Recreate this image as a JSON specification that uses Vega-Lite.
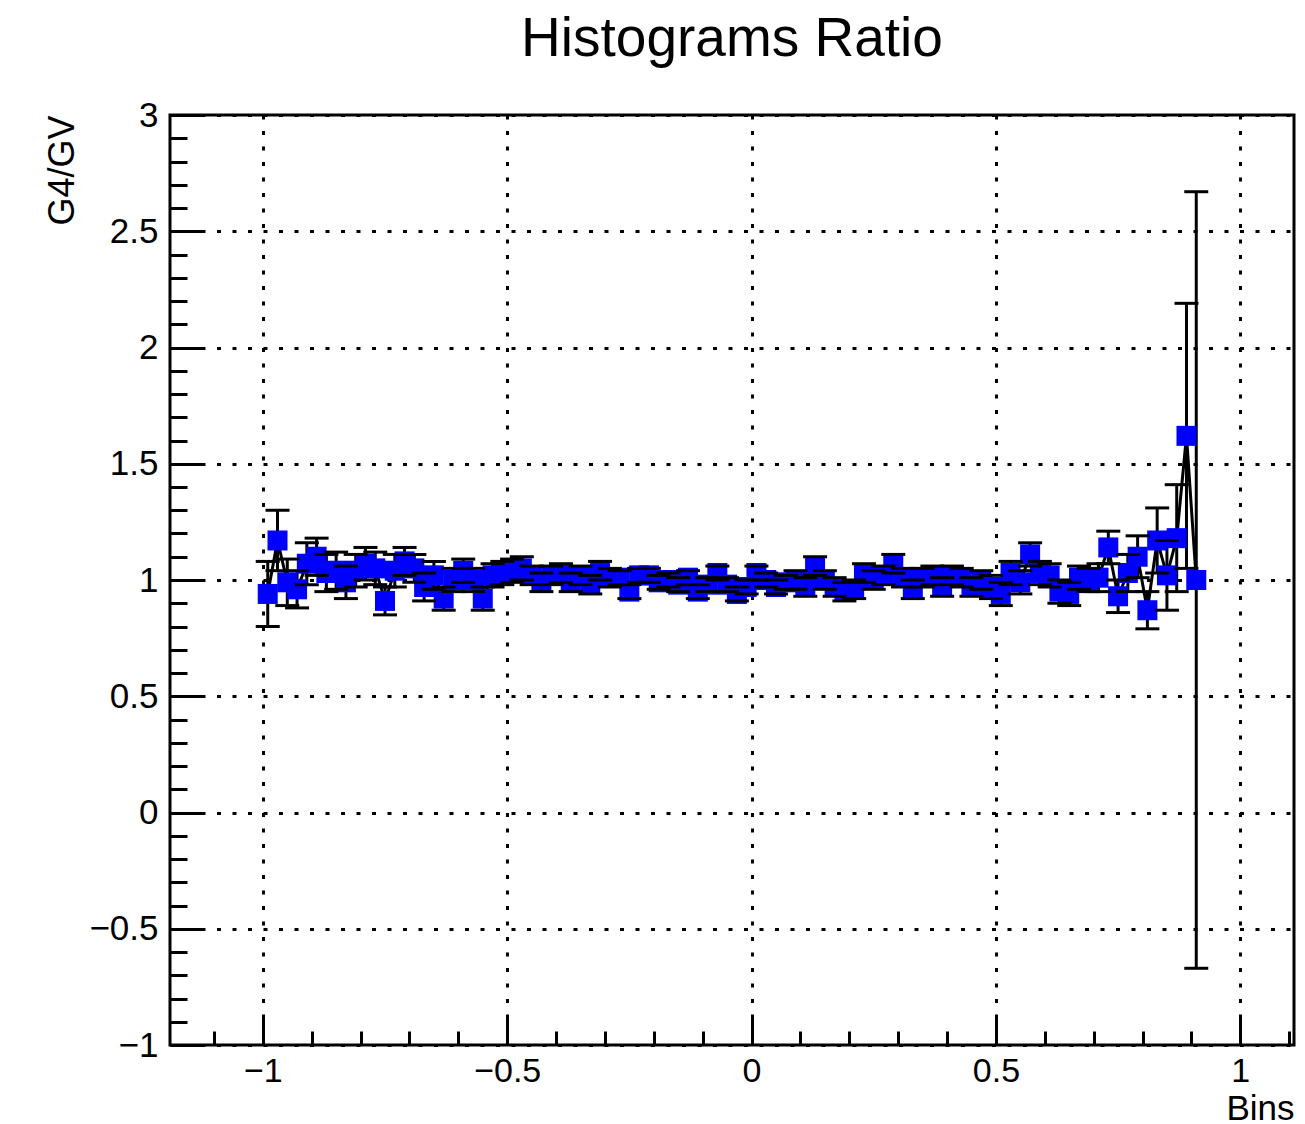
{
  "$schema": "https://vega.github.io/schema/vega-lite/v6.json",
  "width": 1124,
  "height": 930,
  "autosize": {"type": "none"},
  "padding": {"left": 170, "top": 115, "right": 11, "bottom": 79},
  "background": "white",
  "config": {
    "view": {"stroke": "black", "strokeWidth": 3},
    "font": "Liberation Sans"
  },
  "title": {
    "text": "Histograms Ratio",
    "fontSize": 55,
    "font": "Liberation Sans",
    "fontWeight": "normal",
    "color": "black",
    "anchor": "middle",
    "frame": "group",
    "offset": 30
  },
  "data": {
    "values": [
      {"x": -0.99, "y": 0.94, "lo": 0.80, "hi": 1.08},
      {"x": -0.97, "y": 1.17, "lo": 1.04, "hi": 1.30},
      {"x": -0.95, "y": 0.99, "lo": 0.89, "hi": 1.09},
      {"x": -0.93, "y": 0.96, "lo": 0.88, "hi": 1.04},
      {"x": -0.91, "y": 1.07, "lo": 0.98, "hi": 1.16},
      {"x": -0.89, "y": 1.10, "lo": 1.02, "hi": 1.18},
      {"x": -0.87, "y": 1.03, "lo": 0.95, "hi": 1.11},
      {"x": -0.85, "y": 1.04, "lo": 0.96, "hi": 1.12},
      {"x": -0.83, "y": 0.99, "lo": 0.92, "hi": 1.06},
      {"x": -0.81, "y": 1.04, "lo": 0.97, "hi": 1.11},
      {"x": -0.79, "y": 1.07, "lo": 1.00, "hi": 1.14},
      {"x": -0.77, "y": 1.05, "lo": 0.98, "hi": 1.12},
      {"x": -0.75, "y": 0.91, "lo": 0.85, "hi": 0.97},
      {"x": -0.73, "y": 1.04, "lo": 0.97, "hi": 1.11},
      {"x": -0.71, "y": 1.08, "lo": 1.02, "hi": 1.14},
      {"x": -0.69, "y": 1.05, "lo": 0.99, "hi": 1.11},
      {"x": -0.67, "y": 0.97, "lo": 0.91, "hi": 1.03},
      {"x": -0.65, "y": 1.02, "lo": 0.96, "hi": 1.08},
      {"x": -0.63, "y": 0.92, "lo": 0.87, "hi": 0.97},
      {"x": -0.61, "y": 1.00, "lo": 0.95, "hi": 1.05},
      {"x": -0.59, "y": 1.04, "lo": 0.99, "hi": 1.09},
      {"x": -0.57, "y": 1.00, "lo": 0.95, "hi": 1.05},
      {"x": -0.55, "y": 0.92, "lo": 0.87, "hi": 0.97},
      {"x": -0.53, "y": 1.02, "lo": 0.97, "hi": 1.07},
      {"x": -0.51, "y": 1.03, "lo": 0.98, "hi": 1.08},
      {"x": -0.49, "y": 1.04, "lo": 0.99, "hi": 1.09},
      {"x": -0.47, "y": 1.05, "lo": 1.00, "hi": 1.10},
      {"x": -0.45, "y": 1.02, "lo": 0.98, "hi": 1.06},
      {"x": -0.43, "y": 0.99, "lo": 0.95, "hi": 1.03},
      {"x": -0.41, "y": 1.02, "lo": 0.98, "hi": 1.06},
      {"x": -0.39, "y": 1.03, "lo": 0.99, "hi": 1.07},
      {"x": -0.37, "y": 0.99, "lo": 0.95, "hi": 1.03},
      {"x": -0.35, "y": 1.02, "lo": 0.98, "hi": 1.06},
      {"x": -0.33, "y": 0.98, "lo": 0.94, "hi": 1.02},
      {"x": -0.31, "y": 1.04, "lo": 1.00, "hi": 1.08},
      {"x": -0.29, "y": 1.01, "lo": 0.97, "hi": 1.05},
      {"x": -0.27, "y": 1.01, "lo": 0.98, "hi": 1.04},
      {"x": -0.25, "y": 0.95, "lo": 0.92, "hi": 0.98},
      {"x": -0.23, "y": 1.02, "lo": 0.99, "hi": 1.05},
      {"x": -0.21, "y": 1.02, "lo": 0.99, "hi": 1.05},
      {"x": -0.19, "y": 0.99, "lo": 0.96, "hi": 1.02},
      {"x": -0.17, "y": 1.00, "lo": 0.97, "hi": 1.03},
      {"x": -0.15, "y": 0.98, "lo": 0.95, "hi": 1.01},
      {"x": -0.13, "y": 1.01, "lo": 0.98, "hi": 1.04},
      {"x": -0.11, "y": 0.95, "lo": 0.92, "hi": 0.98},
      {"x": -0.09, "y": 0.98, "lo": 0.95, "hi": 1.01},
      {"x": -0.07, "y": 1.03, "lo": 1.00, "hi": 1.06},
      {"x": -0.05, "y": 0.98, "lo": 0.95, "hi": 1.01},
      {"x": -0.03, "y": 0.94, "lo": 0.91, "hi": 0.97},
      {"x": -0.01, "y": 0.97, "lo": 0.94, "hi": 1.00},
      {"x": 0.01, "y": 1.03, "lo": 1.00, "hi": 1.06},
      {"x": 0.03, "y": 1.00, "lo": 0.97, "hi": 1.03},
      {"x": 0.05, "y": 0.97, "lo": 0.94, "hi": 1.00},
      {"x": 0.07, "y": 0.99, "lo": 0.96, "hi": 1.02},
      {"x": 0.09, "y": 1.00, "lo": 0.96, "hi": 1.04},
      {"x": 0.11, "y": 0.97, "lo": 0.93, "hi": 1.01},
      {"x": 0.13, "y": 1.06, "lo": 1.02, "hi": 1.10},
      {"x": 0.15, "y": 1.00, "lo": 0.96, "hi": 1.04},
      {"x": 0.17, "y": 0.97, "lo": 0.93, "hi": 1.01},
      {"x": 0.19, "y": 0.95, "lo": 0.91, "hi": 0.99},
      {"x": 0.21, "y": 0.96, "lo": 0.92, "hi": 1.00},
      {"x": 0.23, "y": 1.03, "lo": 0.99, "hi": 1.07},
      {"x": 0.25, "y": 1.00, "lo": 0.96, "hi": 1.04},
      {"x": 0.27, "y": 1.02, "lo": 0.98, "hi": 1.06},
      {"x": 0.29, "y": 1.07, "lo": 1.03, "hi": 1.11},
      {"x": 0.31, "y": 1.01, "lo": 0.97, "hi": 1.05},
      {"x": 0.33, "y": 0.96, "lo": 0.92, "hi": 1.00},
      {"x": 0.35, "y": 1.01, "lo": 0.97, "hi": 1.05},
      {"x": 0.37, "y": 1.02, "lo": 0.98, "hi": 1.06},
      {"x": 0.39, "y": 0.97, "lo": 0.93, "hi": 1.01},
      {"x": 0.41, "y": 1.02, "lo": 0.98, "hi": 1.06},
      {"x": 0.43, "y": 1.01, "lo": 0.97, "hi": 1.05},
      {"x": 0.45, "y": 0.97, "lo": 0.93, "hi": 1.01},
      {"x": 0.47, "y": 1.00, "lo": 0.96, "hi": 1.04},
      {"x": 0.49, "y": 0.97, "lo": 0.92, "hi": 1.02},
      {"x": 0.51, "y": 0.94, "lo": 0.89, "hi": 0.99},
      {"x": 0.53, "y": 1.03, "lo": 0.98, "hi": 1.08},
      {"x": 0.55, "y": 0.99, "lo": 0.94, "hi": 1.04},
      {"x": 0.57, "y": 1.11, "lo": 1.06, "hi": 1.16},
      {"x": 0.59, "y": 1.03, "lo": 0.98, "hi": 1.08},
      {"x": 0.61, "y": 1.02, "lo": 0.97, "hi": 1.07},
      {"x": 0.63, "y": 0.95, "lo": 0.90, "hi": 1.00},
      {"x": 0.65, "y": 0.94, "lo": 0.89, "hi": 0.99},
      {"x": 0.67, "y": 1.01, "lo": 0.96, "hi": 1.06},
      {"x": 0.69, "y": 1.00, "lo": 0.95, "hi": 1.05},
      {"x": 0.71, "y": 1.01, "lo": 0.95, "hi": 1.07},
      {"x": 0.73, "y": 1.14, "lo": 1.07, "hi": 1.21},
      {"x": 0.75, "y": 0.93, "lo": 0.86, "hi": 1.00},
      {"x": 0.77, "y": 1.03, "lo": 0.95, "hi": 1.11},
      {"x": 0.79, "y": 1.10, "lo": 1.01, "hi": 1.19},
      {"x": 0.81, "y": 0.87, "lo": 0.79, "hi": 0.95},
      {"x": 0.83, "y": 1.17, "lo": 1.03, "hi": 1.31},
      {"x": 0.85, "y": 1.02, "lo": 0.87, "hi": 1.17},
      {"x": 0.87, "y": 1.18, "lo": 0.95, "hi": 1.41},
      {"x": 0.89, "y": 1.62, "lo": 1.05, "hi": 2.19},
      {"x": 0.91, "y": 1.00, "lo": -0.67, "hi": 2.67}
    ]
  },
  "resolve": {"axis": {"x": "independent", "y": "independent"}},
  "layer": [
    {
      "mark": {"type": "line", "color": "black", "strokeWidth": 3},
      "encoding": {
        "x": {
          "field": "x", "type": "quantitative",
          "scale": {"domain": [-1.19, 1.11], "nice": false, "zero": false},
          "axis": {
            "orient": "bottom",
            "values": [-1, -0.5, 0, 0.5, 1],
            "format": "~g",
            "ticks": false,
            "domain": false,
            "grid": true,
            "gridColor": "black",
            "gridWidth": 3,
            "gridDash": [4, 11.5],
            "gridOpacity": 1,
            "labelFont": "Liberation Sans",
            "labelFontSize": 34,
            "labelColor": "black",
            "labelPadding": 9,
            "labelFlush": false,
            "labelOverlap": false,
            "title": "Bins",
            "titleFont": "Liberation Sans",
            "titleFontSize": 35,
            "titleFontWeight": "normal",
            "titleColor": "black",
            "titleAnchor": "end",
            "titlePadding": 3
          }
        },
        "y": {
          "field": "y", "type": "quantitative",
          "scale": {"domain": [-1, 3], "nice": false, "zero": false},
          "axis": {
            "orient": "left",
            "values": [-1, -0.5, 0, 0.5, 1, 1.5, 2, 2.5, 3],
            "format": "~g",
            "ticks": false,
            "domain": false,
            "grid": true,
            "gridColor": "black",
            "gridWidth": 3,
            "gridDash": [4, 11.5],
            "gridOpacity": 1,
            "labelFont": "Liberation Sans",
            "labelFontSize": 35,
            "labelColor": "black",
            "labelPadding": 12,
            "labelFlush": false,
            "labelOverlap": false,
            "title": "G4/GV",
            "titleFont": "Liberation Sans",
            "titleFontSize": 36,
            "titleFontWeight": "normal",
            "titleColor": "black",
            "titleAnchor": "end",
            "titlePadding": 7
          }
        }
      }
    },
    {
      "mark": {"type": "rule", "color": "black", "strokeWidth": 3},
      "encoding": {
        "x": {
          "field": "x", "type": "quantitative",
          "scale": {"domain": [-1.19, 1.11], "nice": false, "zero": false},
          "axis": {
            "orient": "bottom",
            "values": [-1, -0.5, 0, 0.5, 1],
            "labels": false, "grid": false, "domain": false, "title": null,
            "tickSize": -28, "tickWidth": 3, "tickColor": "black"
          }
        },
        "y": {
          "field": "lo", "type": "quantitative",
          "scale": {"domain": [-1, 3], "nice": false, "zero": false},
          "axis": {
            "orient": "left",
            "values": [-1, -0.5, 0, 0.5, 1, 1.5, 2, 2.5, 3],
            "labels": false, "grid": false, "domain": false, "title": null,
            "tickSize": -34, "tickWidth": 3, "tickColor": "black"
          }
        },
        "y2": {"field": "hi"}
      }
    },
    {
      "mark": {"type": "point", "shape": "square", "filled": true, "size": 400, "color": "#0000ff", "opacity": 1, "strokeWidth": 0},
      "encoding": {
        "x": {
          "field": "x", "type": "quantitative",
          "scale": {"domain": [-1.19, 1.11], "nice": false, "zero": false},
          "axis": {
            "orient": "bottom",
            "values": [-1.1, -0.9, -0.8, -0.7, -0.6, -0.4, -0.3, -0.2, -0.1, 0.1, 0.2, 0.3, 0.4, 0.6, 0.7, 0.8, 0.9, 1.1],
            "labels": false, "grid": false, "domain": false, "title": null,
            "tickSize": -14, "tickWidth": 3, "tickColor": "black"
          }
        },
        "y": {
          "field": "y", "type": "quantitative",
          "scale": {"domain": [-1, 3], "nice": false, "zero": false},
          "axis": {
            "orient": "left",
            "values": [-0.9, -0.8, -0.7, -0.6, -0.4, -0.3, -0.2, -0.1, 0.1, 0.2, 0.3, 0.4, 0.6, 0.7, 0.8, 0.9, 1.1, 1.2, 1.3, 1.4, 1.6, 1.7, 1.8, 1.9, 2.1, 2.2, 2.3, 2.4, 2.6, 2.7, 2.8, 2.9],
            "labels": false, "grid": false, "domain": false, "title": null,
            "tickSize": -17, "tickWidth": 3, "tickColor": "black"
          }
        }
      }
    },
    {
      "mark": {"type": "tick", "orient": "horizontal", "color": "black", "size": 24, "thickness": 3, "opacity": 1},
      "encoding": {
        "x": {"field": "x", "type": "quantitative", "scale": {"domain": [-1.19, 1.11], "nice": false, "zero": false}, "axis": null},
        "y": {"field": "lo", "type": "quantitative", "scale": {"domain": [-1, 3], "nice": false, "zero": false}, "axis": null}
      }
    },
    {
      "mark": {"type": "tick", "orient": "horizontal", "color": "black", "size": 24, "thickness": 3, "opacity": 1},
      "encoding": {
        "x": {"field": "x", "type": "quantitative", "scale": {"domain": [-1.19, 1.11], "nice": false, "zero": false}, "axis": null},
        "y": {"field": "hi", "type": "quantitative", "scale": {"domain": [-1, 3], "nice": false, "zero": false}, "axis": null}
      }
    }
  ]
}
